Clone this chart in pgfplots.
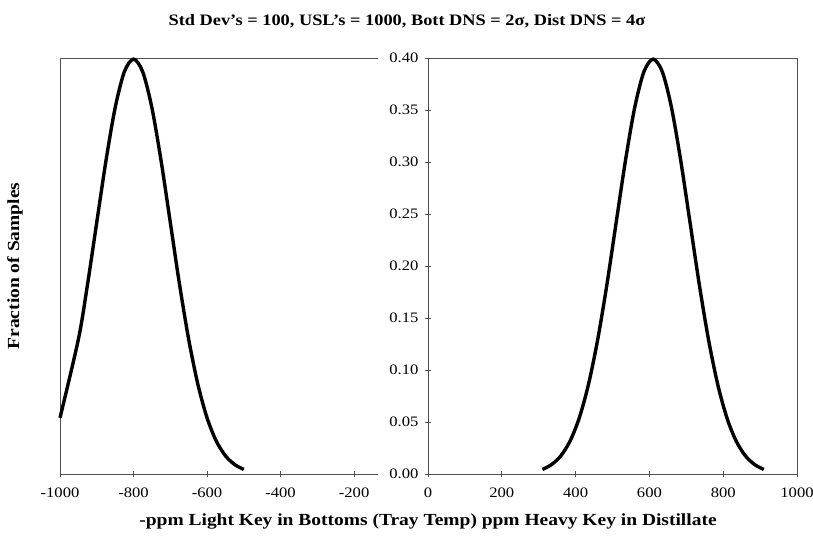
\documentclass[border=0pt]{standalone}
\usepackage{fontspec}
\setmainfont{Liberation Serif}[FakeStretch=1.15]
\usepackage{pgfplots}
\pgfplotsset{compat=1.18}

\definecolor{frame}{HTML}{505050}

\pgfplotsset{
  panel/.style={
    scale only axis,
    height=416bp,
    ymin=0, ymax=0.4,
    tick align=center,
    major tick length=6bp,
    tick style={frame, line width=0.8bp},
    axis line style={frame, line width=0.8bp},
    ticklabel style={font=\fontsize{14.5}{17}\selectfont},
    xticklabel style={yshift=-7bp},
    yticklabel style={xshift=-3bp},
    xtick pos=bottom,
    clip=false,
  },
  curve/.style={black, line width=3.4bp, smooth, no markers},
}

\begin{document}
\begin{tikzpicture}[x=1bp,y=1bp]
\path[use as bounding box] (-60,-64) rectangle (753,474);

% left panel: bottoms
\begin{axis}[panel,
  at={(0bp,0bp)}, anchor=south west,
  width=318bp,
  xmin=-1000, xmax=-135,
  axis x line*=box, axis y line*=left,
  every non boxed y axis/.append style={y axis line style={-}},
  y axis line style={-},
  ytick=\empty,
  xtick={-1000,-800,-600,-400,-200},
  xticklabels={-1000,-800,-600,-400,-200},
]
\addplot[curve] coordinates {
  (-1000,0.0540) (-950,0.1295) (-925,0.1826) (-900,0.2420) (-875,0.3011)
  (-850,0.3521) (-825,0.3867) (-800,0.3989) (-775,0.3867) (-750,0.3521)
  (-725,0.3011) (-700,0.2420) (-675,0.1826) (-650,0.1295) (-625,0.0863)
  (-600,0.0540) (-575,0.0317) (-550,0.0175) (-525,0.0091) (-500,0.0044)
};
\end{axis}

% right panel: distillate
\begin{axis}[panel,
  at={(368bp,0bp)}, anchor=south west,
  width=369bp,
  xmin=0, xmax=1000,
  ytick pos=left,
  xtick={0,200,400,600,800,1000},
  xticklabels={0,200,400,600,800,1000},
  ytick={0,0.05,0.10,0.15,0.20,0.25,0.30,0.35,0.40},
  yticklabels={0.00,0.05,0.10,0.15,0.20,0.25,0.30,0.35,0.40},
]
\addplot[curve] coordinates {
  (310,0.0044) (335,0.0091) (360,0.0175) (385,0.0317) (410,0.0540)
  (435,0.0863) (460,0.1295) (485,0.1826) (510,0.2420) (535,0.3011)
  (560,0.3521) (585,0.3867) (610,0.3989) (635,0.3867) (660,0.3521)
  (685,0.3011) (710,0.2420) (735,0.1826) (760,0.1295) (785,0.0863)
  (810,0.0540) (835,0.0317) (860,0.0175) (885,0.0091) (910,0.0044)
};
\end{axis}

\node[font=\fontsize{16}{19}\selectfont\bfseries] at (347,453)
  {Std Dev’s = 100, USL’s = 1000, Bott DNS = 2σ, Dist DNS = 4σ};
\node[font=\fontsize{17}{20}\selectfont\bfseries] at (368,-47)
  {-ppm Light Key in Bottoms (Tray Temp) ppm Heavy Key in Distillate};
\node[font=\fontsize{17}{20}\selectfont\bfseries, rotate=90] at (-45,208)
  {Fraction of Samples};
\end{tikzpicture}
\end{document}
